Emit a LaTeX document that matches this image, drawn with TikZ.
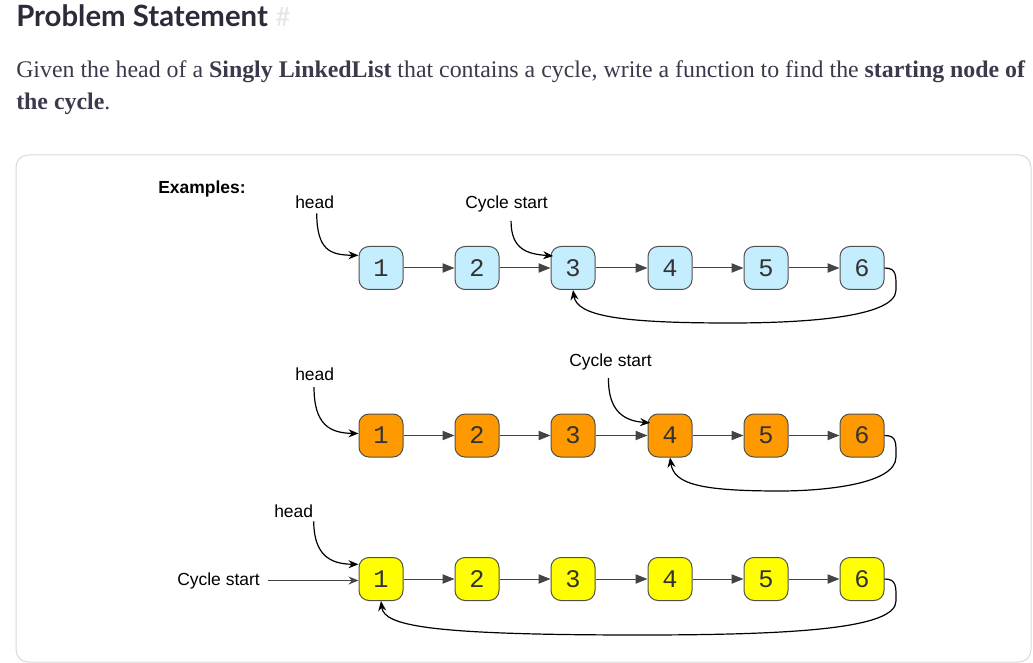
\documentclass[tikz,border=0pt]{standalone}
\usepackage{fontspec}
\setmainfont{Liberation Serif}
\newfontfamily\ttlfont{Lato}
\newfontfamily\lblfont{Liberation Sans}
\newfontfamily\digfont{Liberation Mono}
\usetikzlibrary{arrows.meta}
\definecolor{txtcol}{HTML}{3A3A4C}
\definecolor{ttlcol}{HTML}{2B2B3A}
\definecolor{boxcol}{HTML}{D9D9D9}
\definecolor{bluefill}{HTML}{C4EEFD}
\definecolor{orangefill}{HTML}{FF9900}
\definecolor{yellowfill}{HTML}{FFFF00}
\definecolor{ndborder}{HTML}{505050}
\definecolor{digcol}{HTML}{333333}
\definecolor{linkcol}{HTML}{444444}

\begin{document}
\begin{tikzpicture}
[
	x=0.75pt,y=-0.75pt,
	nd/.style={rectangle,draw=ndborder,line width=0.75pt,rounded corners=7.5pt,inner sep=0pt,minimum height=32.25pt,minimum width=33pt,font=\digfont\fontsize{19pt}{19pt}\selectfont,text=digcol},
	lbl/.style={inner sep=0pt,anchor=base west,font=\lblfont\fontsize{13.1pt}{13.1pt}\selectfont,text=black},
	link/.style={draw=linkcol,line width=0.75pt,-{Triangle[length=9pt,width=7pt,fill=linkcol]}},
	ptr/.style={draw=black,line width=0.9pt,-{Stealth[length=7.5pt,width=6pt]}}
]
\useasboundingbox (0,0) rectangle (1033,663);

% page text
\node[inner sep=0pt,anchor=base west,text=ttlcol,font=\ttlfont\bfseries\fontsize{22pt}{22pt}\selectfont] (ttl) at (16,27) {Problem Statement};
\node[inner sep=0pt,anchor=base west,text=black!10,font=\ttlfont\fontsize{20pt}{20pt}\selectfont] (hash) at (275,27) {\#};
\node[inner sep=0pt,anchor=base west,text=txtcol,font=\fontsize{17.9pt}{17.9pt}\selectfont] (par1) at (16,78) {Given the head of a \textbf{Singly LinkedList} that contains a cycle, write a function to find the \textbf{starting node of}};
\node[inner sep=0pt,anchor=base west,text=txtcol,font=\fontsize{17.9pt}{17.9pt}\selectfont] (par2) at (16,110) {\textbf{the cycle}.};

\draw[boxcol,line width=0.75pt,rounded corners=9pt] (16,155) rectangle (1031,662);
\node[lbl,font=\lblfont\bfseries\fontsize{13.1pt}{13.1pt}\selectfont] (ex) at (158,194) {Examples:};

% first list
\node[nd,fill=bluefill] (a1) at (381,268) {1};
\node[nd,fill=bluefill] (a2) at (477,268) {2};
\node[nd,fill=bluefill] (a3) at (573,268) {3};
\node[nd,fill=bluefill] (a4) at (670,268) {4};
\node[nd,fill=bluefill] (a5) at (766,268) {5};
\node[nd,fill=bluefill] (a6) at (862,268) {6};

\node[lbl] (ahead) at (295,209) {head};
\node[lbl] (acyc) at (465,209) {Cycle start};

\draw[link]	(a1)	--	(a2);
\draw[link]	(a2)	--	(a3);
\draw[link]	(a3)	--	(a4);
\draw[link]	(a4)	--	(a5);
\draw[link]	(a5)	--	(a6);

\draw[ptr] ([xshift=1.5pt,yshift=-3pt]ahead.south) .. controls (317,250) and (330,255) .. ([yshift=9.5pt]a1.west);
\draw[ptr] ([xshift=3.4pt,yshift=-6pt]acyc.south) .. controls (511,250) and (528,254) .. ([xshift=2pt,yshift=9pt]a3.west);
\draw[ptr] (a6.east) .. controls (897,268) and (896,276) .. (896,290) .. controls (896,318) and (800,323) .. (730,323) .. controls (620,323) and (577,316) .. (a3.south);

% second list
\node[nd,fill=orangefill] (b1) at (381,435.5) {1};
\node[nd,fill=orangefill] (b2) at (477,435.5) {2};
\node[nd,fill=orangefill] (b3) at (573,435.5) {3};
\node[nd,fill=orangefill] (b4) at (670,435.5) {4};
\node[nd,fill=orangefill] (b5) at (766,435.5) {5};
\node[nd,fill=orangefill] (b6) at (862,435.5) {6};

\node[lbl] (bhead) at (295,380) {head};
\node[lbl] (bcyc) at (569,367) {Cycle start};

\draw[link]	(b1)	--	(b2);
\draw[link]	(b2)	--	(b3);
\draw[link]	(b3)	--	(b4);
\draw[link]	(b4)	--	(b5);
\draw[link]	(b5)	--	(b6);

\draw[ptr] ([xshift=-0.5pt,yshift=-5pt]bhead.south) .. controls (314,425) and (330,433) .. ([yshift=1.5pt]b1.west);
\draw[ptr] ([xshift=-1.5pt,yshift=-5.5pt]bcyc.south) .. controls (608,412) and (625,421) .. ([xshift=2pt,yshift=9.5pt]b4.west);
\draw[ptr] (b6.east) .. controls (897,435.5) and (896,443) .. (896,457) .. controls (896,485) and (820,491) .. (780,491) .. controls (700,491) and (674,484) .. (b4.south);

% third list
\node[nd,fill=yellowfill] (c1) at (381,579) {1};
\node[nd,fill=yellowfill] (c2) at (477,579) {2};
\node[nd,fill=yellowfill] (c3) at (573,579) {3};
\node[nd,fill=yellowfill] (c4) at (670,579) {4};
\node[nd,fill=yellowfill] (c5) at (766,579) {5};
\node[nd,fill=yellowfill] (c6) at (862,579) {6};

\node[lbl] (chead) at (274,517) {head};
\node[lbl] (ccyc) at (177,585) {Cycle start};

\draw[link]	(c1)	--	(c2);
\draw[link]	(c2)	--	(c3);
\draw[link]	(c3)	--	(c4);
\draw[link]	(c4)	--	(c5);
\draw[link]	(c5)	--	(c6);

\draw[ptr] ([xshift=15pt,yshift=-3pt]chead.south) .. controls (314,555) and (330,564) .. ([yshift=11pt]c1.west);
\draw[ptr,draw=linkcol] ([xshift=6pt]ccyc.east) -- (ccyc.east -| c1.west);
\draw[ptr] (c6.east) .. controls (897,579) and (896,587) .. (896,601) .. controls (896,628) and (800,635) .. (640,635) .. controls (430,635) and (384,626) .. (c1.south);

\end{tikzpicture}
\end{document}
